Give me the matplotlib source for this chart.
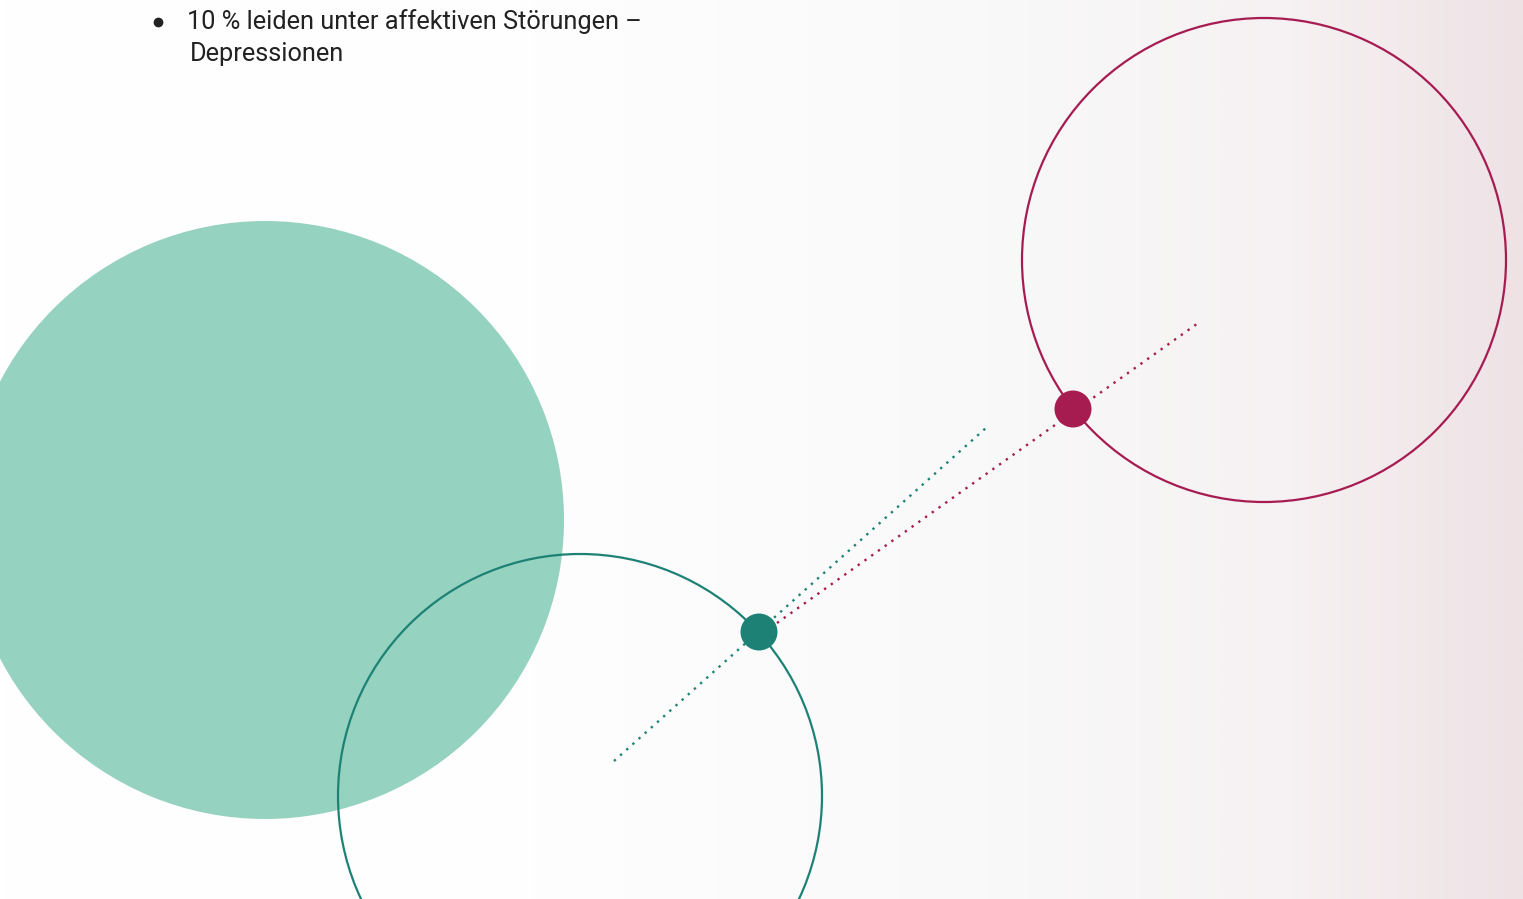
import matplotlib
matplotlib.use('Agg')
import matplotlib.pyplot as plt
import numpy as np
from matplotlib.patches import Circle
from matplotlib.colors import LinearSegmentedColormap

# page size in pixels
W, H = 1523, 899

# text
bullet_lines = ['10 % leiden unter affektiven Störungen –', 'Depressionen']

# circles: (x, y, r) in pixel units
filled_circle = (265, 520, 299)
teal_ring = (580, 796, 242)
red_ring = (1264, 260, 242)
teal_dot = (759, 632, 18.5)
red_dot = (1073, 409, 18.5)

# dotted lines: start and end points
teal_line_x = [614, 987]
teal_line_y = [761, 427]
red_line_x = [777, 1201]
red_line_y = [623, 321]

teal = '#1d8275'
mint = '#95d2c0'
red = '#a61c51'

fig = plt.figure(figsize=(W / 100, H / 100), dpi=100)
ax = fig.add_axes([0, 0, 1, 1])
ax.set_xlim(0, W)
ax.set_ylim(H, 0)
ax.set_aspect('equal')
ax.axis('off')

# background gradient (white -> pale rose to the right)
cmap = LinearSegmentedColormap.from_list('bg', [(0, '#ffffff'), (0.35, '#fefefe'), (0.65, '#f9f9f9'),
                                                (0.85, '#f6f1f2'), (1, '#eee2e5')])
grad = np.linspace(0, 1, 512).reshape(1, -1)
ax.imshow(grad, cmap=cmap, extent=[0, W, H, 0], aspect='auto', zorder=0)

ax.add_patch(Circle(filled_circle[:2], filled_circle[2], facecolor=mint, edgecolor='none', zorder=1))
ax.add_patch(Circle(teal_ring[:2], teal_ring[2], facecolor='none', edgecolor=teal, lw=1.6, zorder=2))
ax.add_patch(Circle(red_ring[:2], red_ring[2], facecolor='none', edgecolor=red, lw=1.6, zorder=2))

ax.plot(teal_line_x, teal_line_y, color=teal, lw=1.7, linestyle=(0, (1, 2.5)), zorder=3)
ax.plot(red_line_x, red_line_y, color=red, lw=1.7, linestyle=(0, (1, 2.5)), zorder=3)

ax.add_patch(Circle(teal_dot[:2], teal_dot[2], facecolor=teal, edgecolor='none', zorder=4))
ax.add_patch(Circle(red_dot[:2], red_dot[2], facecolor=red, edgecolor='none', zorder=4))

# bullet text
ax.plot([158], [22], 'o', color='#222222', markersize=6, zorder=5)
ax.text(187, 22, bullet_lines[0], fontsize=18.3, family='Roboto', color='#222222', va='center', ha='left', zorder=5)
ax.text(190, 54, bullet_lines[1], fontsize=18.3, family='Roboto', color='#222222', va='center', ha='left', zorder=5)

fig.savefig('out.png', dpi=100)
